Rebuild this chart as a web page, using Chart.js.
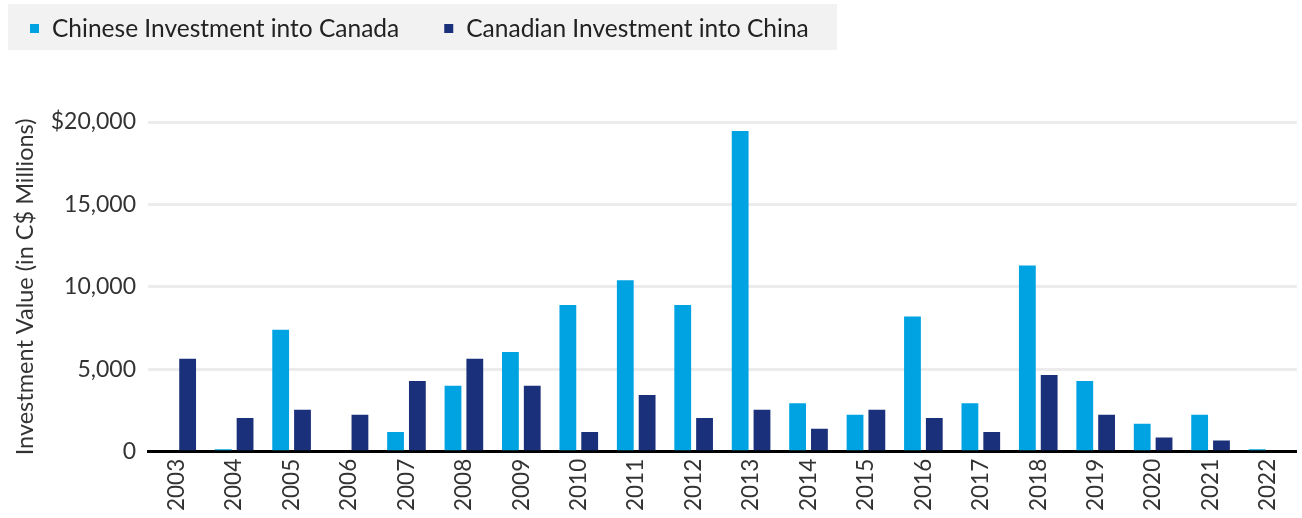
<!DOCTYPE html>
<html>
<head>
<meta charset="utf-8">
<script src="https://cdn.jsdelivr.net/npm/chart.js@4/dist/chart.umd.min.js"></script>
<style>
  html, body { margin: 0; padding: 0; background: #fff; }
  #wrap { position: relative; width: 1302px; height: 518px; }
</style>
</head>
<body>
<div id="wrap"><canvas id="investChart"></canvas></div>
<script>
const years = ['2003', '2004', '2005', '2006', '2007', '2008', '2009', '2010', '2011', '2012',
               '2013', '2014', '2015', '2016', '2017', '2018', '2019', '2020', '2021', '2022'];

// C$ millions
const chineseIntoCanada = [0, 150, 7400, 0, 1200, 4000, 6050, 8900, 10400, 8900,
                           19450, 2950, 2250, 8200, 2950, 11300, 4300, 1700, 2250, 150];
const canadianIntoChina = [5650, 2050, 2550, 2250, 4300, 5650, 4000, 1200, 3450, 2050,
                           2550, 1400, 2550, 2050, 1200, 4650, 2250, 870, 680, 0];

const yTicks = [0, 5000, 10000, 15000, 20000];

const lightBlue = '#00a3e2';
const darkBlue = '#1b307b';
const fontFamily = 'Lato, "Open Sans", sans-serif';

// legend drawn as a grey strip above the plot
const legendStrip = {
    id: 'legendStrip',
    afterDraw(chart) {
        const ctx = chart.ctx;
        ctx.save();
        ctx.fillStyle = '#f2f2f2';
        ctx.fillRect(8, 4, 829, 46);
        ctx.font = '24.5px ' + fontFamily;
        ctx.textBaseline = 'middle';
        let x = 30;
        chart.data.datasets.forEach(ds => {
            ctx.fillStyle = ds.backgroundColor;
            ctx.fillRect(x, 24, 9, 9);
            ctx.fillStyle = '#222';
            ctx.fillText(ds.label, x + 22, 29);
            x += 22 + ctx.measureText(ds.label).width + 45;
        });
        ctx.restore();
    }
};

const ctx = document.getElementById('investChart').getContext('2d');
const chart = new Chart(ctx, {
    type: 'bar',
    data: {
        labels: years,
        datasets: [{
            label: 'Chinese Investment into Canada',
            data: chineseIntoCanada,
            backgroundColor: lightBlue
        }, {
            label: 'Canadian Investment into China',
            data: canadianIntoChina,
            backgroundColor: darkBlue
        }]
    },
    options: {
        responsive: true,
        maintainAspectRatio: false,
        animation: false,
        categoryPercentage: 0.76,
        barPercentage: 0.77,
        layout: {
            padding: { top: 122, right: 0, bottom: 0, left: 0 }
        },
        plugins: {
            legend: { display: false },
            tooltip: { enabled: false }
        },
        scales: {
            x: {
                grid: { display: false, drawTicks: false },
                border: { color: '#000', width: 3 },
                ticks: {
                    color: '#333',
                    font: { family: fontFamily, size: 22.5 },
                    minRotation: 90,
                    maxRotation: 90,
                    padding: 7,
                    autoSkip: false
                }
            },
            y: {
                min: 0,
                max: 20000,
                afterFit: scale => { scale.width = 148; },
                afterBuildTicks: scale => {
                    scale.ticks = yTicks.map(v => ({ value: v }));
                },
                border: { display: false },
                grid: { color: '#ececec', lineWidth: 3, drawTicks: false },
                ticks: {
                    color: '#333',
                    font: { family: fontFamily, size: 23 },
                    padding: 12,
                    callback: function(value) {
                        const s = Number(value).toLocaleString('en-US');
                        return value === 20000 ? '$' + s : s;
                    }
                },
                title: {
                    display: true,
                    text: 'Investment Value (in C$ Millions)',
                    color: '#333',
                    font: { family: fontFamily, size: 23.5 },
                    padding: { top: 11, bottom: 0 }
                }
            }
        }
    },
    plugins: [legendStrip]
});
</script>
</body>
</html>
